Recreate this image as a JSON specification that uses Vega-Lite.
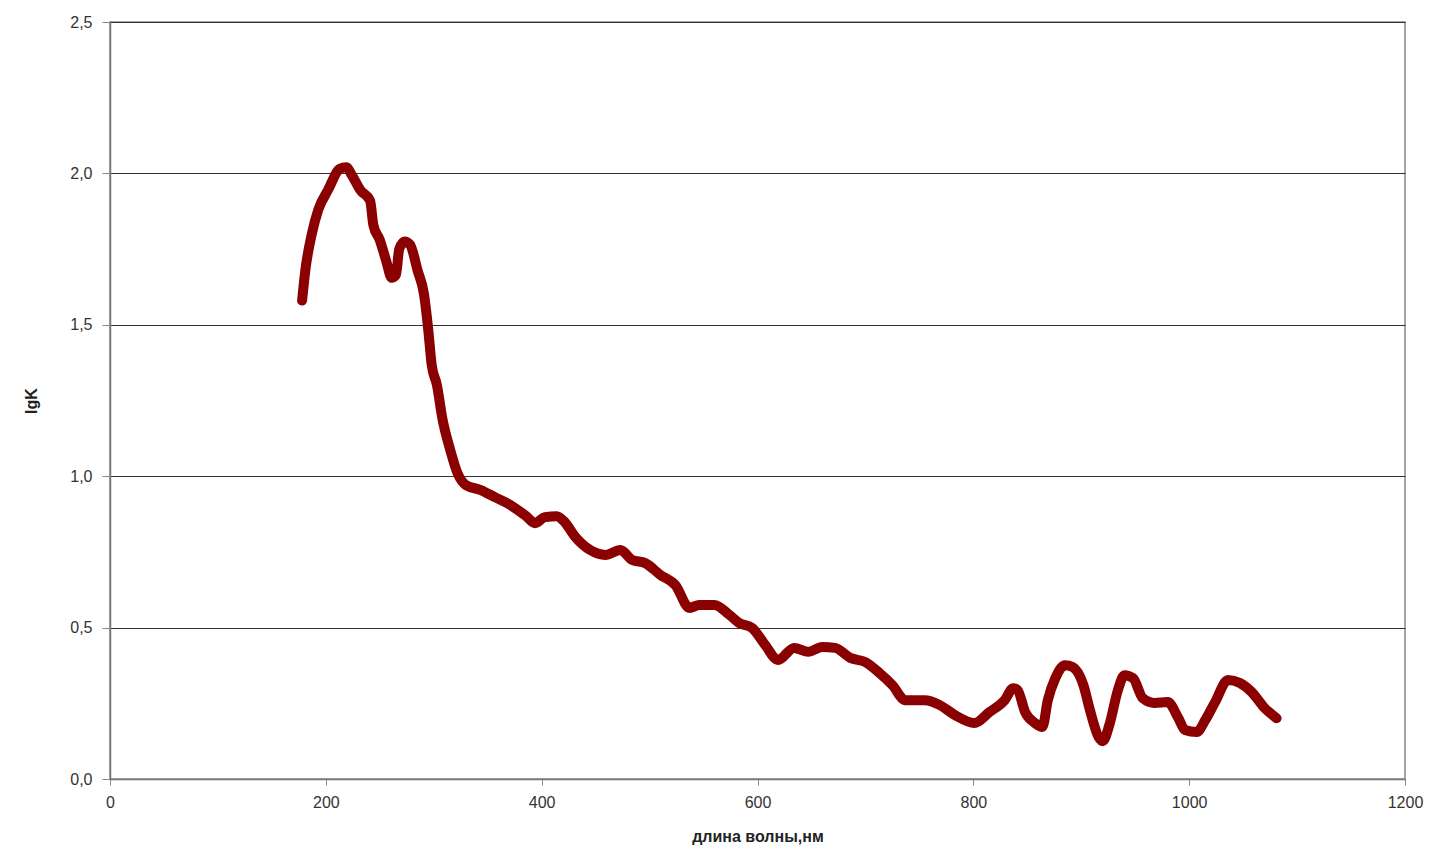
{
  "$schema": "https://vega.github.io/schema/vega-lite/v6.json",
  "width": 1295,
  "height": 757,
  "autosize": {"type": "none"},
  "padding": {"left": 110, "top": 22, "right": 35, "bottom": 76},
  "background": "white",
  "config": {
    "view": {"stroke": "#888888", "strokeWidth": 1.5},
    "font": "Liberation Sans"
  },
  "data": {
    "values": [
      {"wl": 178, "lgK": 1.58}, {"wl": 181, "lgK": 1.68}, {"wl": 187, "lgK": 1.80}, {"wl": 193, "lgK": 1.88},
      {"wl": 202, "lgK": 1.945}, {"wl": 213, "lgK": 2.015}, {"wl": 219, "lgK": 2.02}, {"wl": 224, "lgK": 1.995},
      {"wl": 232, "lgK": 1.945}, {"wl": 241, "lgK": 1.91}, {"wl": 244, "lgK": 1.83}, {"wl": 250, "lgK": 1.78},
      {"wl": 256, "lgK": 1.71}, {"wl": 261, "lgK": 1.655}, {"wl": 265, "lgK": 1.665}, {"wl": 268, "lgK": 1.75},
      {"wl": 273, "lgK": 1.775}, {"wl": 278, "lgK": 1.765}, {"wl": 285, "lgK": 1.68}, {"wl": 291, "lgK": 1.60},
      {"wl": 295, "lgK": 1.48}, {"wl": 298, "lgK": 1.37}, {"wl": 303, "lgK": 1.30}, {"wl": 308, "lgK": 1.19},
      {"wl": 315, "lgK": 1.09}, {"wl": 322, "lgK": 1.01}, {"wl": 330, "lgK": 0.97}, {"wl": 343, "lgK": 0.955},
      {"wl": 357, "lgK": 0.93}, {"wl": 371, "lgK": 0.905}, {"wl": 385, "lgK": 0.87}, {"wl": 394, "lgK": 0.845},
      {"wl": 403, "lgK": 0.865}, {"wl": 414, "lgK": 0.868}, {"wl": 421, "lgK": 0.85}, {"wl": 431, "lgK": 0.80},
      {"wl": 445, "lgK": 0.756}, {"wl": 459, "lgK": 0.74}, {"wl": 473, "lgK": 0.756}, {"wl": 484, "lgK": 0.723},
      {"wl": 496, "lgK": 0.713}, {"wl": 510, "lgK": 0.674}, {"wl": 524, "lgK": 0.64}, {"wl": 537, "lgK": 0.565},
      {"wl": 546, "lgK": 0.575}, {"wl": 560, "lgK": 0.575}, {"wl": 574, "lgK": 0.542}, {"wl": 583, "lgK": 0.515},
      {"wl": 595, "lgK": 0.499}, {"wl": 607, "lgK": 0.443}, {"wl": 619, "lgK": 0.393}, {"wl": 634, "lgK": 0.433},
      {"wl": 647, "lgK": 0.42}, {"wl": 660, "lgK": 0.436}, {"wl": 672, "lgK": 0.433}, {"wl": 686, "lgK": 0.40},
      {"wl": 700, "lgK": 0.386}, {"wl": 713, "lgK": 0.35}, {"wl": 725, "lgK": 0.31}, {"wl": 737, "lgK": 0.26},
      {"wl": 755, "lgK": 0.26}, {"wl": 769, "lgK": 0.244}, {"wl": 783, "lgK": 0.211}, {"wl": 801, "lgK": 0.185},
      {"wl": 815, "lgK": 0.221}, {"wl": 829, "lgK": 0.26}, {"wl": 837, "lgK": 0.30}, {"wl": 841, "lgK": 0.294},
      {"wl": 848, "lgK": 0.221}, {"wl": 857, "lgK": 0.185}, {"wl": 864, "lgK": 0.172}, {"wl": 869, "lgK": 0.26},
      {"wl": 876, "lgK": 0.333}, {"wl": 885, "lgK": 0.376}, {"wl": 892, "lgK": 0.37}, {"wl": 902, "lgK": 0.31},
      {"wl": 908, "lgK": 0.228}, {"wl": 916, "lgK": 0.139}, {"wl": 920, "lgK": 0.125}, {"wl": 926, "lgK": 0.178},
      {"wl": 934, "lgK": 0.294}, {"wl": 940, "lgK": 0.343}, {"wl": 948, "lgK": 0.333}, {"wl": 957, "lgK": 0.267},
      {"wl": 968, "lgK": 0.251}, {"wl": 980, "lgK": 0.254}, {"wl": 990, "lgK": 0.201}, {"wl": 996, "lgK": 0.162},
      {"wl": 1007, "lgK": 0.155}, {"wl": 1015, "lgK": 0.195}, {"wl": 1024, "lgK": 0.254}, {"wl": 1036, "lgK": 0.327},
      {"wl": 1047, "lgK": 0.317}, {"wl": 1058, "lgK": 0.287}, {"wl": 1070, "lgK": 0.234}, {"wl": 1081, "lgK": 0.201}
    ]
  },
  "mark": {"type": "line", "color": "#8b0000", "strokeWidth": 10, "interpolate": "monotone", "strokeCap": "round", "strokeJoin": "round"},
  "encoding": {
    "x": {
      "field": "wl", "type": "quantitative",
      "scale": {"domain": [0, 1200], "nice": false, "zero": false},
      "axis": {
        "values": [0, 200, 400, 600, 800, 1000, 1200],
        "format": "d",
        "labelFlush": false,
        "grid": false,
        "title": "длина волны,нм",
        "titleFont": "Liberation Sans", "titleFontSize": 16, "titleFontWeight": "bold", "titleColor": "#222",
        "titlePadding": 18,
        "labelFont": "Liberation Sans", "labelFontSize": 16, "labelColor": "#333", "labelPadding": 9,
        "domainColor": "#777", "domainWidth": 1.5,
        "tickColor": "#888", "tickSize": 6
      }
    },
    "y": {
      "field": "lgK", "type": "quantitative",
      "scale": {"domain": [0, 2.5], "nice": false},
      "axis": {
        "values": [0, 0.5, 1, 1.5, 2, 2.5],
        "labelExpr": "replace(format(datum.value, '.1f'), '.', ',')",
        "labelFlush": false,
        "grid": true, "gridColor": "#333", "gridWidth": 1.2,
        "title": "lgK",
        "titleFont": "Liberation Sans", "titleFontSize": 16, "titleFontWeight": "bold", "titleColor": "#222",
        "titlePadding": 30,
        "labelFont": "Liberation Sans", "labelFontSize": 16, "labelColor": "#333", "labelPadding": 10,
        "domainColor": "#777", "domainWidth": 1.5,
        "tickColor": "#888", "tickSize": 8
      }
    }
  }
}
